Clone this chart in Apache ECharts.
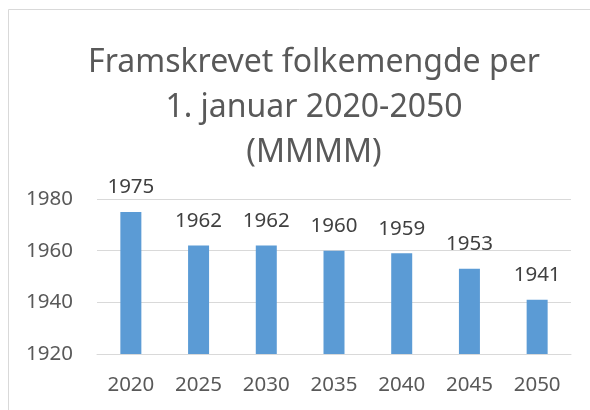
<!DOCTYPE html>
<html>
<head>
<meta charset="utf-8">
<script src="https://cdn.jsdelivr.net/npm/echarts@6/dist/echarts.min.js"></script>
<style>
  html, body { margin: 0; padding: 0; background: #fff; }
  #chart { width: 590px; height: 410px; }
</style>
</head>
<body>
<div id="chart"></div>
<script>
// ===== 数据 =====
var years = ['2020', '2025', '2030', '2035', '2040', '2045', '2050'];
var population = [1975, 1962, 1962, 1960, 1959, 1953, 1941];
var titleLines = ['Framskrevet folkemengde per', '1. januar 2020-2050', '(MMMM)'];

var FONT = '"Noto Sans", sans-serif';

var chart = echarts.init(document.getElementById('chart'));

var option = {
  backgroundColor: '#ffffff',
  animation: false,
  // 外框
  graphic: [{
    type: 'rect',
    shape: { x: 8.5, y: 9.5, width: 620, height: 420 },
    style: { fill: 'none', stroke: '#d9d9d9', lineWidth: 1 },
    silent: true
  }],
  title: {
    text: titleLines.join('\n'),
    left: 314,
    top: 40,
    textAlign: 'center',
    padding: 0,
    textStyle: {
      fontFamily: FONT,
      fontSize: 32,
      fontWeight: 'normal',
      color: '#595959',
      lineHeight: 45
    }
  },
  grid: {
    left: 97,
    right: 19,
    top: 199,
    bottom: 56,
    containLabel: false
  },
  xAxis: {
    type: 'category',
    data: years,
    axisLine: { show: true, lineStyle: { color: '#d9d9d9', width: 1 } },
    axisTick: { show: false },
    axisLabel: {
      fontFamily: FONT,
      fontSize: 20.5,
      color: '#595959',
      margin: 21
    }
  },
  yAxis: {
    type: 'value',
    min: 1920,
    max: 1980,
    interval: 20,
    axisLine: { show: false },
    axisTick: { show: false },
    splitLine: { lineStyle: { color: '#d9d9d9', width: 1 } },
    axisLabel: {
      fontFamily: FONT,
      fontSize: 20.5,
      color: '#595959',
      margin: 24,
      formatter: function(v) { return String(v); }
    }
  },
  series: [{
    type: 'bar',
    data: population,
    barWidth: 21,
    itemStyle: { color: '#5b9bd5' },
    label: {
      show: true,
      position: 'top',
      distance: 14,
      fontFamily: FONT,
      fontSize: 20.5,
      color: '#404040'
    }
  }]
};

chart.setOption(option);
</script>
</body>
</html>
